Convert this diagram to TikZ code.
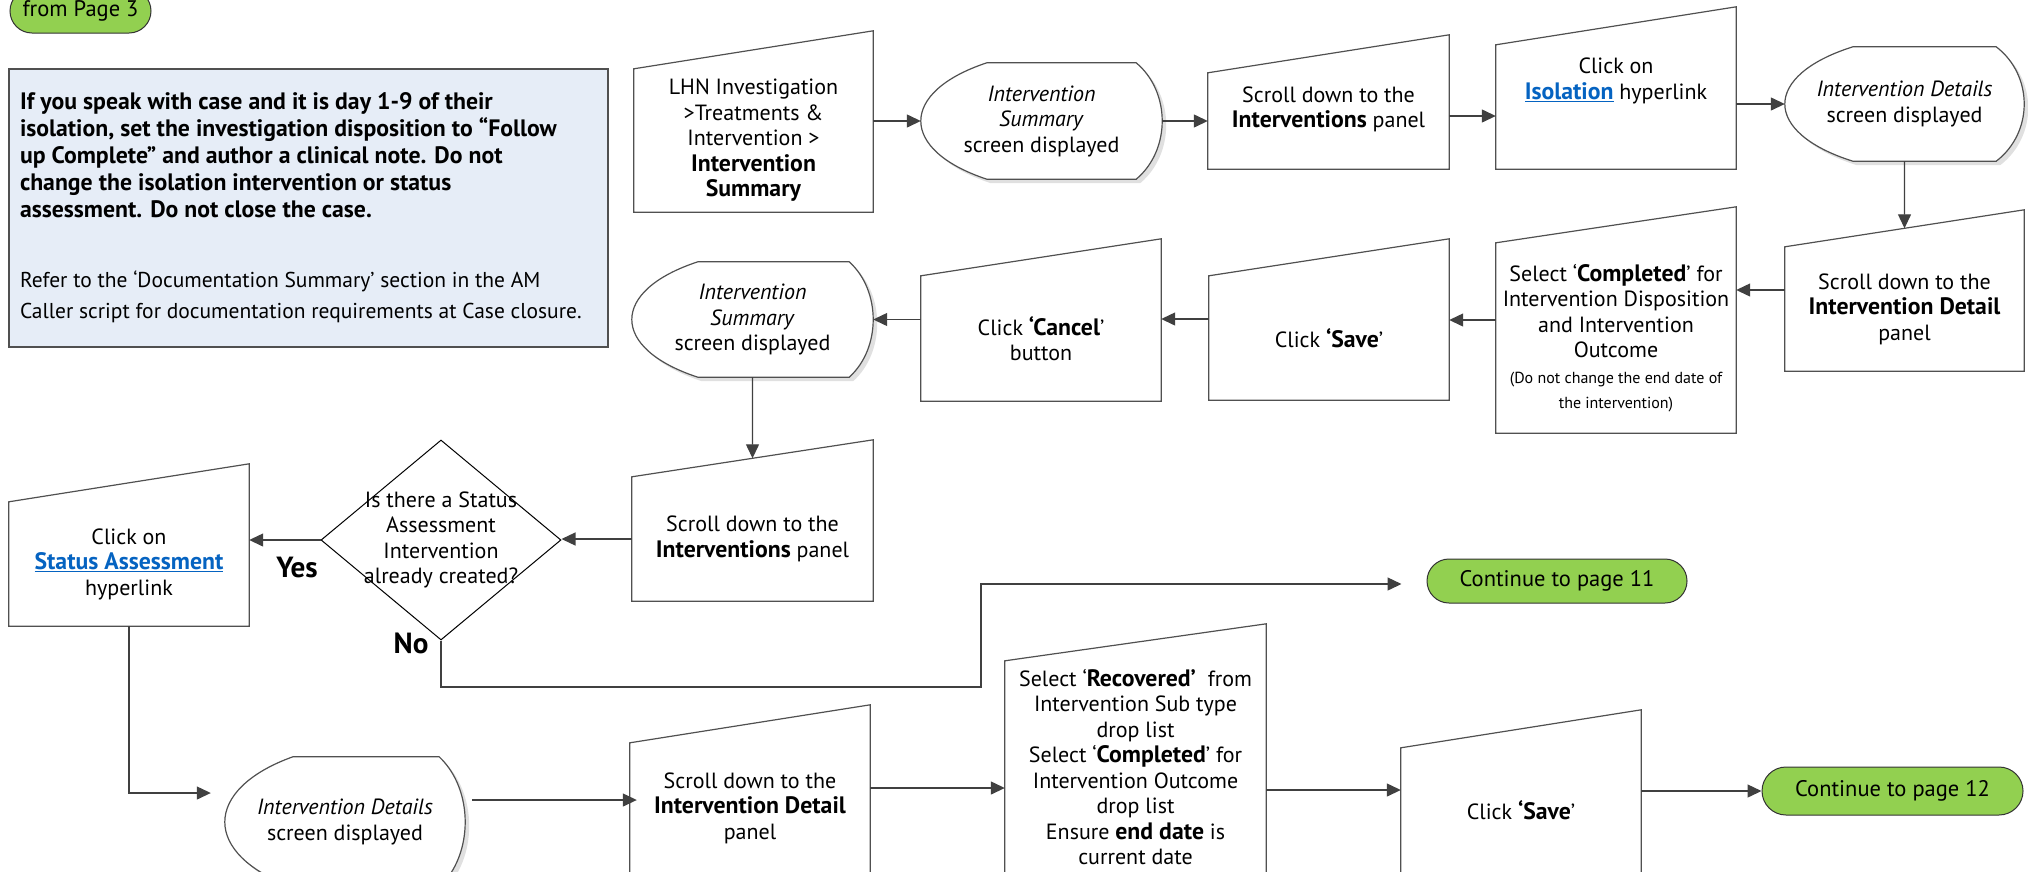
\documentclass[tikz,border=0pt]{standalone}
\usepackage{fontspec}
\setmainfont{PT Sans}[BoldFeatures={Scale=1.08}]
\usetikzlibrary{arrows.meta,positioning,calc,backgrounds,shapes.geometric,shapes.misc}
\definecolor{edge}{RGB}{64,64,64}
\definecolor{rim}{RGB}{80,80,80}
\definecolor{link}{RGB}{5,99,193}
\definecolor{lime}{RGB}{146,208,80}
\definecolor{note}{RGB}{230,237,247}
\newcommand\hlink[1]{\textcolor{link}{\underline{\textbf{#1}}}}
\newcommand\smalltxt{\fontsize{16}{24}\selectfont}
\tikzset{
  txt/.style={font=\fontsize{22}{25.5}\selectfont,align=center},
  arr/.style={-{Triangle[length=14pt,width=13pt]},line width=1.3pt,draw=edge},
  rimline/.style={draw=rim,line width=1.2pt},
  card/.style={txt,rectangle,inner sep=3pt},
  screen/.style={txt,rectangle,inner sep=3pt},
  pill/.style={txt,font=\fontsize{22.5}{26}\selectfont,rounded rectangle,draw=black!80,line width=1pt,fill=lime,inner sep=2pt},
  decide/.style={diamond,draw=black,line width=1pt,inner sep=0pt},
  lab/.style={font=\fontsize{27}{30}\selectfont\bfseries},
  note/.style={font=\fontsize{22}{26.8}\selectfont,draw=rim,line width=1.2pt,fill=note,
    text width=577pt,inner xsep=11pt,align=flush left}
}
% manual input outline: node, drop of top-left corner, rise of top-right corner
\newcommand\manin[3]{%
  \draw[rimline] (#1.south west) -- (#1.south east) -- ([yshift=#3pt]#1.north east)
    -- ([yshift=-#2pt]#1.north west) -- cycle;
  \coordinate (#1-top) at ($([yshift=-#2pt]#1.north west)!.5!([yshift=#3pt]#1.north east)$);}
% display outline: node, left bulge, right bulge
\newcommand\disp[3]{%
  \begin{pgfonlayer}{background}
  \draw[rimline,fill=white,preaction={fill=black!12,transform canvas={shift={(4pt,-4pt)}}}]
    ([xshift=#2pt]#1.north west) -- ([xshift=-#3pt]#1.north east)
    .. controls ($(#1.north east)!.25!(#1.south east)+(#3/3,0)$) and ($(#1.south east)!.25!(#1.north east)+(#3/3,0)$) .. ([xshift=-#3pt]#1.south east)
    -- ([xshift=#2pt]#1.south west)
    .. controls ($(#1.south west)!.25!(#1.north west)+(-#2/3,0)$) and ($(#1.north west)!.25!(#1.south west)+(-#2/3,0)$) .. cycle;
  \end{pgfonlayer}}

\begin{document}
\begin{tikzpicture}[x=1pt,y=-1pt]
  \useasboundingbox (0,0) rectangle (2028,871);

  \node[pill,minimum width=145pt,minimum height=44pt] (from3) at (80.5,11) {from Page 3};
  \node[note,minimum height=278pt] (info) at (308.5,208) {%
    \mbox{\textbf{If you speak with case and it is day 1-9 of their}}\\
    \mbox{\textbf{isolation, set the investigation disposition to “Follow}}\\
    \mbox{\textbf{up Complete” and author a clinical note. Do not}}\\
    \mbox{\textbf{change the isolation intervention or status}}\\
    \mbox{\textbf{assessment. Do not close the case.}}\\[44pt]
    {\fontsize{21.5}{26.8}\selectfont
    \mbox{Refer to the ‘Documentation Summary’ section in the AM}\\[4.2pt]
    \mbox{Caller script for documentation requirements at Case closure.}}};

  % top row
  \node[card,minimum width=239pt,minimum height=143pt] (lhn) at (753.5,140.5)
    {LHN Investigation\\>Treatments \&\\Intervention >\\\textbf{Intervention}\\\textbf{Summary}};
  \manin{lhn}{0}{38}
  \node[screen,minimum width=241pt,minimum height=116pt] (is1) at (1041.5,121)
    {\textit{Intervention}\\\textit{Summary}\\screen displayed};
  \disp{is1}{66}{26}
  \node[card,minimum width=241pt,minimum height=119pt] (scr1) at (1328.5,109.5)
    {Scroll down to the\\\textbf{Interventions} panel};
  \manin{scr1}{23}{15}
  \node[card,minimum width=240pt,minimum height=176pt] (iso) at (1616,81)
    {Click on\\\hlink{Isolation} hyperlink};
  \manin{iso}{52}{-14}
  \node[screen,minimum width=239pt,minimum height=114pt] (isd1) at (1904.5,104)
    {\textit{Intervention Details}\\screen displayed};
  \disp{isd1}{68}{28}

  % second row, right to left
  \node[card,minimum width=239pt,minimum height=124pt] (scr2) at (1904.5,309)
    {Scroll down to the\\\textbf{Intervention Detail}\\panel};
  \manin{scr2}{0}{37}
  \node[card,minimum width=240pt,minimum height=190pt] (selc) at (1616,338)
    {Select ‘\textbf{Completed}’ for\\Intervention Disposition\\and Intervention\\Outcome\\
     {\smalltxt (Do not change the end date of}\\{\smalltxt the intervention)}};
  \manin{selc}{0}{36}
  \node[card,minimum width=240pt,minimum height=124pt] (save1) at (1329,338)
    {Click \textbf{‘Save}’};
  \manin{save1}{0}{37}
  \node[card,minimum width=240pt,minimum height=125pt] (cancel) at (1041,338.5)
    {Click \textbf{‘Cancel}’\\button};
  \manin{cancel}{0}{37}
  \node[screen,minimum width=241pt,minimum height=115pt] (is2) at (752.5,319.5)
    {\textit{Intervention}\\\textit{Summary}\\screen displayed};
  \disp{is2}{66}{24}

  % third row
  \node[card,minimum width=241pt,minimum height=124pt] (scr3) at (752.5,539)
    {Scroll down to the\\\textbf{Interventions} panel};
  \manin{scr3}{0}{37}
  \node[decide,minimum width=240pt,minimum height=200pt] (q) at (441,540) {};
  \node[txt] (qtext) at (q) {Is there a Status\\Assessment\\Intervention\\already created?};
  \node[card,minimum width=240pt,minimum height=124pt] (csa) at (129,564)
    {Click on\\\hlink{Status Assessment}\\hyperlink};
  \manin{csa}{0}{38}
  \node[lab] (yes) at (297,567) {Yes};
  \node[lab] (no) at (411,643) {No};
  \node[pill,minimum width=264pt,minimum height=44pt] (cont11) at (1557,581) {Continue to page 11};

  % bottom row
  \node[screen,minimum width=240pt,minimum height=130pt] (isd2) at (345,822)
    {\textit{Intervention Details}\\screen displayed};
  \disp{isd2}{68}{26}
  \node[card,minimum width=240pt,minimum height=130pt] (scr4) at (750,808)
    {Scroll down to the\\\textbf{Intervention Detail}\\panel};
  \manin{scr4}{0}{38}
  \node[card,minimum width=261pt,minimum height=212pt] (selr) at (1135.5,767)
    {Select ‘\textbf{Recovered’}\ \ from\\Intervention Sub type\\drop list\\Select ‘\textbf{Completed}’ for\\
     Intervention Outcome\\drop list\\Ensure \textbf{end date} is\\current date};
  \manin{selr}{0}{37}
  \node[card,minimum width=240pt,minimum height=125pt] (save2) at (1521,810.5)
    {Click \textbf{‘Save}’};
  \manin{save2}{0}{38}
  \node[pill,minimum width=265pt,minimum height=48pt] (cont12) at (1892.5,791) {Continue to page 12};

  % connectors
  \draw[arr] (lhn.east |- is1.west) -- (is1.west);
  \draw[arr] (is1.east) -- (is1.east -| scr1.west);
  \draw[arr] ([yshift=-6.5pt]scr1.east) -- ([yshift=-6.5pt]scr1.east -| iso.west);
  \draw[arr] (iso.east |- isd1.west) -- (isd1.west);
  \draw[arr] (isd1.south) -- (scr2-top);
  \draw[arr] ([yshift=19pt]scr2.west) -- ([yshift=19pt]scr2.west -| selc.east);
  \draw[arr] ([yshift=18pt]selc.west) -- ([yshift=18pt]selc.west -| save1.east);
  \draw[arr] ([yshift=19pt]save1.west) -- ([yshift=19pt]save1.west -| cancel.east);
  \draw[arr] (cancel.west |- is2.east) -- (is2.east);
  \draw[arr] (is2.south) -- (scr3-top);
  \draw[arr] (scr3.west) -- (scr3.west -| q.east);
  \draw[arr] (q.west) -- (q.west -| csa.east);
  \coordinate (nojog) at (981,687);
  \draw[arr] (q.south) |- (nojog) |- ([shift={(-25pt,-3pt)}]cont11.west);
  \draw[arr] (csa.south) |- ([shift={(-14pt,29pt)}]isd2.west);
  \draw[arr] ([shift={(7pt,22pt)}]isd2.east) -- ([shift={(7pt,22pt)}]isd2.east -| scr4.west);
  \draw[arr] ([yshift=20pt]scr4.east) -- ([yshift=20pt]scr4.east -| selr.west);
  \draw[arr] ([yshift=-23pt]selr.east) -- ([yshift=-23pt]selr.east -| save2.west);
  \draw[arr] (save2.east |- cont12.west) -- (cont12.west);
\end{tikzpicture}
\end{document}
